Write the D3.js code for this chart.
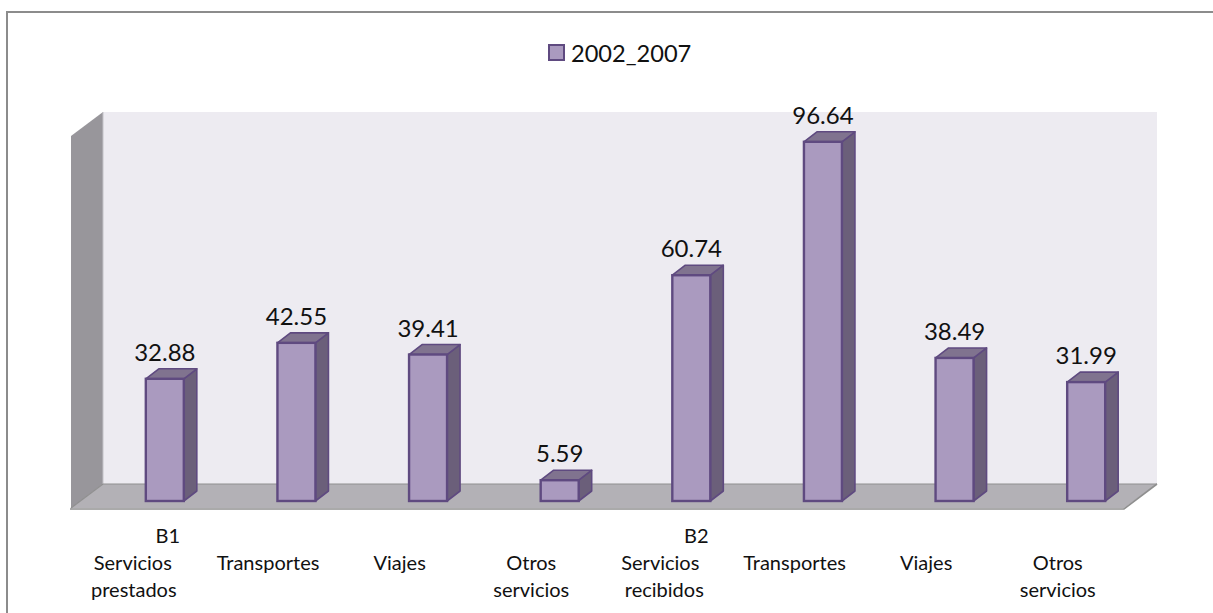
<!DOCTYPE html>
<html><head><meta charset="utf-8">
<script src="https://cdn.jsdelivr.net/npm/d3@7"></script>
<style>html,body{margin:0;padding:0;background:#fff}svg{display:block}text{font-family:Lato,"Open Sans",sans-serif;fill:#111}</style>
</head><body><svg id="c" width="1213" height="613"></svg>
<script>
const categoryKeys = ["a","b","c","d","e","f","g","h"];
const categoryLabels = [["B1","Servicios","prestados"],["Transportes"],["Viajes"],["Otros","servicios"],["B2","Servicios","recibidos"],["Transportes"],["Viajes"],["Otros","servicios"]];
const values = [32.88,42.55,39.41,5.59,60.74,96.64,38.49,31.99];
const seriesName = "2002_2007";

const svg = d3.select("#c");
const x = d3.scaleBand().domain(categoryKeys).range([99,1152]);
const y = d3.scaleLinear().domain([0,100]).range([501,129.3]);
const barW = 38, dx = 13, dy = 10;
const path = p => d3.line()(p)+"Z";

// frame: top and left rules only
svg.append("path").attr("d","M7,613V12H1213").attr("fill","none").attr("stroke","#8c8c8c").attr("stroke-width",2);

// walls
svg.append("rect").attr("x",103).attr("y",112).attr("width",1054).attr("height",372).attr("fill","#edebf1");
svg.append("path").attr("d",path([[71,136],[103,112],[103,484],[71,508]])).attr("fill","#98969b");
svg.append("line").attr("x1",103).attr("x2",103).attr("y1",112).attr("y2",484).attr("stroke","#c4c3c8").attr("stroke-width",1);
svg.append("path").attr("d",path([[71,508],[103,484],[1157,484],[1124,508]])).attr("fill","#b3b1b6");
svg.append("path").attr("d","M71,508L103,484H1157").attr("fill","none").attr("stroke","#8f8f8f").attr("stroke-width",1.2);
svg.append("path").attr("d","M1157,484L1124,509H70").attr("fill","none").attr("stroke","#8f8f8f").attr("stroke-width",1.6);

// bars
const stroke="#5f4a80";
// horizontal placement of each axis-label line relative to its bar
const lineShift = (i,j,n)=>{
  if(n===3){
    if(j===0) return i===0?3:5;
    if(i===0) return j===1?-32:-31;
    return j===1?-31:-27;
  }
  return -28.4;
};
categoryKeys.forEach((k,i)=>{
  const v=values[i], cx=x(k)+x.bandwidth()/2, l=cx-barW/2, r=cx+barW/2, t=y(v), b=y(0);
  const s=svg.append("g");
  s.append("path").attr("d",path([[r,t],[r+dx,t-dy],[r+dx,b-dy],[r,b]])).attr("fill","#6b5f7a").attr("stroke",stroke).attr("stroke-width",1.6).attr("stroke-linejoin","round");
  s.append("path").attr("d",path([[l,t],[l+dx,t-dy],[r+dx,t-dy],[r,t]])).attr("fill","#80738f").attr("stroke",stroke).attr("stroke-width",1.6).attr("stroke-linejoin","round");
  s.append("rect").attr("x",l).attr("y",t).attr("width",barW).attr("height",b-t).attr("fill","#aa9abf").attr("stroke",stroke).attr("stroke-width",2.4);
  svg.append("text").attr("x",cx).attr("y",t-18).attr("text-anchor","middle").attr("font-size",24).text(v.toFixed(2));
  const lines=categoryLabels[i], n=lines.length;
  lines.forEach((ln,j)=>{
    svg.append("text").attr("x",cx+lineShift(i,j,n)).attr("y",(n===3?543:570)+j*27)
      .attr("text-anchor","middle").attr("font-size",20).text(ln);
  });
});

// legend
svg.append("rect").attr("x",549).attr("y",45).attr("width",15).attr("height",15).attr("fill","#aa9abf").attr("stroke",stroke).attr("stroke-width",2);
svg.append("text").attr("x",571).attr("y",62).attr("font-size",23.6).text(seriesName);
</script></body></html>
